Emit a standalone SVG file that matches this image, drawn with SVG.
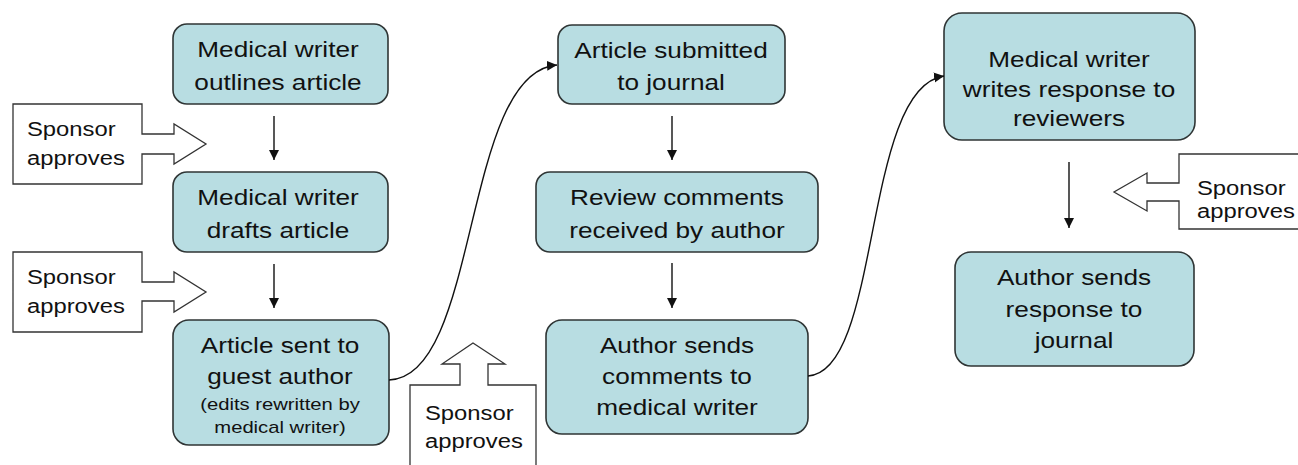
<svg xmlns="http://www.w3.org/2000/svg" width="1298" height="465" viewBox="0 0 1298 465">
<style>
.box{fill:#b8dde2;stroke:#2f3535;stroke-width:1.6}
.sp{fill:#ffffff;stroke:#333333;stroke-width:1.3}
.t{font-family:"Liberation Sans",Arial,sans-serif;font-size:22px;fill:#111111;text-anchor:middle}
.s{font-family:"Liberation Sans",Arial,sans-serif;font-size:17px;fill:#111111;text-anchor:middle}
.st{font-family:"Liberation Sans",Arial,sans-serif;font-size:20px;fill:#111111}
.c{fill:none;stroke:#111111;stroke-width:1.4}
</style>
<defs>
<marker id="ah" viewBox="0 0 10 10" refX="10" refY="5" markerUnits="userSpaceOnUse" markerWidth="10" markerHeight="11" orient="auto">
<path d="M0,0 L10,5 L0,10 Z" fill="#111111"/>
</marker>
</defs>
<rect width="1298" height="465" fill="#ffffff"/>

<g id="sponsor1">
<path class="sp" d="M13,104 H142 V134 H174 V124 L206,144 L174,164 V154 H142 V184 H13 Z"/>
<g transform="translate(27,0) scale(1.19,1)"><text class="st" x="0" y="136">Sponsor</text><text class="st" x="0" y="165">approves</text></g>
</g>
<g id="sponsor2">
<path class="sp" d="M13,252 H142 V282 H174 V272 L206,292 L174,312 V301 H142 V332 H13 Z"/>
<g transform="translate(27,0) scale(1.19,1)"><text class="st" x="0" y="284">Sponsor</text><text class="st" x="0" y="313">approves</text></g>
</g>
<g id="sponsor3">
<path class="sp" d="M410,480 V385 H460 V364 H442 L473,343 L505,364 H488 V385 H536 V480 Z"/>
<g transform="translate(425,0) scale(1.19,1)"><text class="st" x="0" y="420">Sponsor</text><text class="st" x="0" y="448">approves</text></g>
</g>
<g id="sponsor4">
<path class="sp" d="M1310,154 H1179 V183 H1147 V173 L1114,192 L1147,211 V201 H1179 V229 H1310 Z"/>
<g transform="translate(1197,0) scale(1.19,1)"><text class="st" x="0" y="195">Sponsor</text><text class="st" x="0" y="218">approves</text></g>
</g>

<g id="n1">
<rect class="box" x="173" y="24" width="215" height="80" rx="14"/>
<g transform="translate(278,0) scale(1.19,1)"><text class="t" x="0" y="57">Medical writer</text><text class="t" x="0" y="90">outlines article</text></g>
</g>
<g id="n2">
<rect class="box" x="173" y="172" width="215" height="80" rx="14"/>
<g transform="translate(278,0) scale(1.19,1)"><text class="t" x="0" y="205">Medical writer</text><text class="t" x="0" y="238">drafts article</text></g>
</g>
<g id="n3">
<rect class="box" x="173" y="320" width="216" height="125" rx="16"/>
<g transform="translate(280,0) scale(1.19,1)"><text class="t" x="0" y="353">Article sent to</text><text class="t" x="0" y="384">guest author</text><text class="s" x="0" y="410">(edits rewritten by</text><text class="s" x="0" y="433">medical writer)</text></g>
</g>
<g id="n4">
<rect class="box" x="558" y="25" width="227" height="79" rx="14"/>
<g transform="translate(671,0) scale(1.19,1)"><text class="t" x="0" y="58">Article submitted</text><text class="t" x="0" y="90">to journal</text></g>
</g>
<g id="n5">
<rect class="box" x="536" y="172" width="282" height="80" rx="14"/>
<g transform="translate(677,0) scale(1.19,1)"><text class="t" x="0" y="205">Review comments</text><text class="t" x="0" y="238">received by author</text></g>
</g>
<g id="n6">
<rect class="box" x="546" y="320" width="262" height="114" rx="16"/>
<g transform="translate(677,0) scale(1.19,1)"><text class="t" x="0" y="353">Author sends</text><text class="t" x="0" y="384">comments to</text><text class="t" x="0" y="415">medical writer</text></g>
</g>
<g id="n7">
<rect class="box" x="944" y="13" width="251" height="127" rx="18"/>
<g transform="translate(1069,0) scale(1.19,1)"><text class="t" x="0" y="67">Medical writer</text><text class="t" x="0" y="97">writes response to</text><text class="t" x="0" y="126">reviewers</text></g>
</g>
<g id="n8">
<rect class="box" x="955" y="252" width="239" height="114" rx="16"/>
<g transform="translate(1074,0) scale(1.19,1)"><text class="t" x="0" y="285">Author sends</text><text class="t" x="0" y="317">response to</text><text class="t" x="0" y="348">journal</text></g>
</g>

<g id="connectors">
<line class="c" x1="274" y1="116" x2="274" y2="160" marker-end="url(#ah)"/>
<line class="c" x1="274" y1="264" x2="274" y2="308" marker-end="url(#ah)"/>
<line class="c" x1="672" y1="116" x2="672" y2="160" marker-end="url(#ah)"/>
<line class="c" x1="672" y1="263" x2="672" y2="308" marker-end="url(#ah)"/>
<line class="c" x1="1069" y1="162" x2="1069" y2="228" marker-end="url(#ah)"/>
<path class="c" d="M389,380 C480,378 462,72 557,65" marker-end="url(#ah)"/>
<path class="c" d="M808,376 C882,372 862,88 944,76" marker-end="url(#ah)"/>
</g>
</svg>
